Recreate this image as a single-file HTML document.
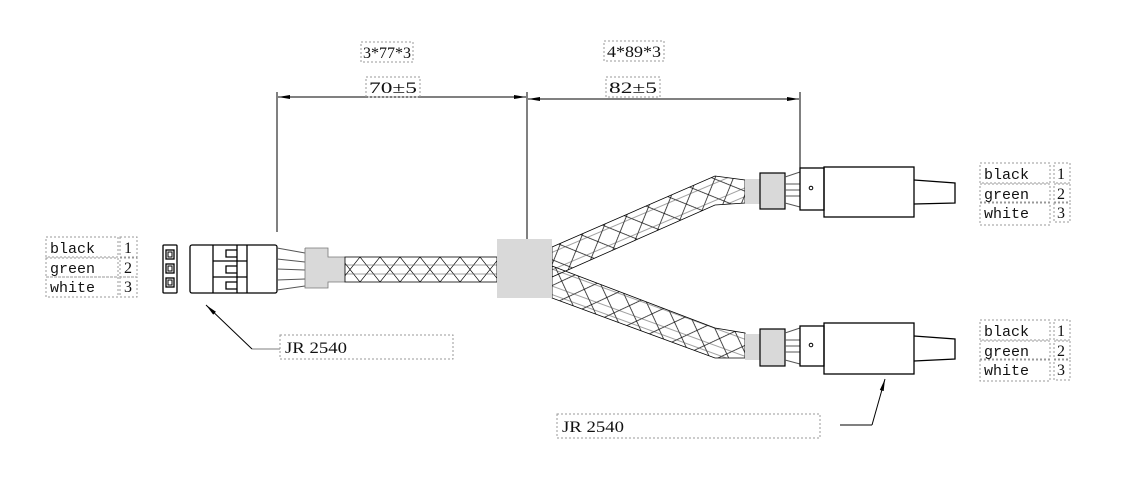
<!DOCTYPE html>
<html><head><meta charset="utf-8"><style>
html,body{margin:0;padding:0;background:#fff}
svg{display:block}
text{font-family:"Liberation Serif",serif;font-size:16px;fill:#111}
text.m{font-family:"Liberation Mono",monospace;font-size:15px}
.db{fill:none;stroke:#999;stroke-width:1;stroke-dasharray:2 2}
.k{fill:none;stroke:#000;stroke-width:1.3}
.g{fill:#d9d9d9;stroke:none}
.w{stroke:#555;stroke-width:1;fill:none}
</style></head><body>
<svg width="1147" height="483" viewBox="0 0 1147 483" xmlns="http://www.w3.org/2000/svg">
<defs>
<pattern id="hx" width="20" height="25" patternUnits="userSpaceOnUse" y="257">
<path d="M0 0L20 25M20 0L0 25" stroke="#000" stroke-width="0.7"/>
<path d="M0 8H20M0 17H20" stroke="#444" stroke-width="0.5"/>
</pattern>
<pattern id="hu" width="24" height="24" patternUnits="userSpaceOnUse" patternTransform="rotate(-23)">
<path d="M0 0L24 24M24 0L0 24" stroke="#000" stroke-width="0.7"/>
<path d="M0 8H24M0 16H24" stroke="#444" stroke-width="0.5"/>
</pattern>
<pattern id="hl" width="24" height="24" patternUnits="userSpaceOnUse" patternTransform="rotate(20)">
<path d="M0 0L24 24M24 0L0 24" stroke="#000" stroke-width="0.7"/>
<path d="M0 8H24M0 16H24" stroke="#444" stroke-width="0.5"/>
</pattern>
<marker id="ar" markerWidth="12" markerHeight="6" refX="12" refY="3" orient="auto" markerUnits="userSpaceOnUse"><path d="M0 1L12 3L0 5Z" fill="#000"/></marker>
</defs>

<line x1="277" y1="92" x2="277" y2="232" stroke="#000"/>
<line x1="527" y1="92" x2="527" y2="240" stroke="#000"/>
<line x1="800" y1="92" x2="800" y2="168" stroke="#000"/>
<line x1="402" y1="97" x2="278" y2="97" stroke="#000" marker-end="url(#ar)"/>
<line x1="402" y1="97" x2="526" y2="97" stroke="#000" marker-end="url(#ar)"/>
<line x1="660" y1="99" x2="528" y2="99" stroke="#000" marker-end="url(#ar)"/>
<line x1="660" y1="99" x2="799" y2="99" stroke="#000" marker-end="url(#ar)"/>
<rect class="db" x="361" y="42" width="52" height="20"/><text x="363" y="58" textLength="48" lengthAdjust="spacingAndGlyphs">3*77*3</text>
<rect class="db" x="366" y="77" width="54" height="20"/><text x="369" y="93" textLength="48" lengthAdjust="spacingAndGlyphs">70±5</text>
<rect class="db" x="604" y="41" width="60" height="20"/><text x="607" y="57" textLength="54" lengthAdjust="spacingAndGlyphs">4*89*3</text>
<rect class="db" x="606" y="77" width="54" height="20"/><text x="609" y="93" textLength="48" lengthAdjust="spacingAndGlyphs">82±5</text>

<rect class="db" x="46" y="237" width="72" height="20"/><text class="m" x="50" y="253">black</text>
<rect class="db" x="46" y="258" width="72" height="19"/><text class="m" x="50" y="273">green</text>
<rect class="db" x="46" y="277" width="72" height="20"/><text class="m" x="50" y="292">white</text>
<rect class="db" x="120" y="237" width="17" height="20"/><text x="124" y="253">1</text>
<rect class="db" x="120" y="258" width="17" height="19"/><text x="124" y="273">2</text>
<rect class="db" x="120" y="277" width="17" height="20"/><text x="124" y="292">3</text>

<rect class="k" x="163" y="245" width="14" height="48" rx="1"/>
<rect class="k" x="166" y="250" width="8" height="9"/><rect x="168" y="252" width="4" height="5" fill="none" stroke="#000"/>
<rect class="k" x="166" y="264" width="8" height="9"/><rect x="168" y="266" width="4" height="5" fill="none" stroke="#000"/>
<rect class="k" x="166" y="278" width="8" height="9"/><rect x="168" y="280" width="4" height="5" fill="none" stroke="#000"/>
<rect class="k" x="190" y="245" width="87" height="48" rx="2"/>
<line class="k" x1="213" y1="245" x2="213" y2="293"/>
<line class="k" x1="237" y1="245" x2="237" y2="293"/>
<line class="k" x1="247" y1="245" x2="247" y2="293"/>
<line class="k" x1="213" y1="261" x2="247" y2="261"/>
<line class="k" x1="213" y1="277" x2="247" y2="277"/>
<path class="k" d="M237 250H226V257H237M237 266H226V273H237M237 282H226V289H237" stroke-width="0.9"/>
<path class="w" d="M277 248L305 253M277 259L305 262M277 269L305 270M277 280L305 279M277 290L305 286"/>
<rect class="g" x="305" y="248" width="23" height="40"/>
<rect class="g" x="328" y="257" width="17" height="25"/>
<path d="M305 248H328V257H345M305 248V288H328V282H345" fill="none" stroke="#777" stroke-width="0.8"/>
<rect x="345" y="257" width="152" height="25" fill="url(#hx)" stroke="#000" stroke-width="0.8"/>

<path d="M552 247L715 176L745 180V203L715 205L552 277Z" fill="url(#hu)" stroke="#000" stroke-width="0.8"/>
<path d="M552 266L715 328L745 333V358L715 358L552 298Z" fill="url(#hl)" stroke="#000" stroke-width="0.8"/>
<rect class="g" x="497" y="239" width="55" height="59"/>

<rect class="g" x="745" y="179" width="15" height="25"/>
<rect x="760" y="173" width="25" height="36" fill="#d9d9d9" stroke="#000" stroke-width="1.2"/>
<path class="w" d="M785 177L800 172M785 184H800M785 190H800M785 196H800M785 203L800 207"/>
<rect class="k" x="800" y="168" width="24" height="42"/>
<circle cx="811" cy="188" r="1.8" fill="none" stroke="#000"/>
<rect class="k" x="824" y="167" width="90" height="50"/>
<path class="k" d="M914 180L955 183V203L914 204"/>

<rect class="g" x="745" y="334" width="15" height="26"/>
<rect x="760" y="329" width="25" height="37" fill="#d9d9d9" stroke="#000" stroke-width="1.2"/>
<path class="w" d="M785 333L800 328M785 340H800M785 346H800M785 352H800M785 360L800 364"/>
<rect class="k" x="800" y="326" width="24" height="40"/>
<circle cx="811" cy="345" r="1.8" fill="none" stroke="#000"/>
<rect class="k" x="824" y="323" width="90" height="51"/>
<path class="k" d="M914 336L955 339V359L914 361"/>

<rect class="db" x="980" y="163" width="70" height="20"/><text class="m" x="984" y="179">black</text>
<rect class="db" x="980" y="184" width="70" height="18"/><text class="m" x="984" y="199">green</text>
<rect class="db" x="980" y="203" width="70" height="22"/><text class="m" x="984" y="218">white</text>
<rect class="db" x="1054" y="163" width="16" height="20"/><text x="1057" y="179">1</text>
<rect class="db" x="1054" y="184" width="16" height="18"/><text x="1057" y="199">2</text>
<rect class="db" x="1054" y="203" width="16" height="19"/><text x="1057" y="218">3</text>
<rect class="db" x="980" y="320" width="70" height="20"/><text class="m" x="984" y="336">black</text>
<rect class="db" x="980" y="341" width="70" height="18"/><text class="m" x="984" y="356">green</text>
<rect class="db" x="980" y="360" width="70" height="21"/><text class="m" x="984" y="375">white</text>
<rect class="db" x="1054" y="320" width="16" height="20"/><text x="1057" y="336">1</text>
<rect class="db" x="1054" y="341" width="16" height="18"/><text x="1057" y="356">2</text>
<rect class="db" x="1054" y="360" width="16" height="20"/><text x="1057" y="375">3</text>

<rect class="db" x="280" y="335" width="173" height="24"/><text x="285" y="353" textLength="62" lengthAdjust="spacingAndGlyphs">JR 2540</text>
<line x1="252" y1="349" x2="280" y2="349" stroke="#999" stroke-width="1.2"/>
<line x1="252" y1="349" x2="206" y2="305" stroke="#000" marker-end="url(#ar)"/>
<rect class="db" x="557" y="414" width="263" height="24"/><text x="562" y="432" textLength="62" lengthAdjust="spacingAndGlyphs">JR 2540</text>
<path d="M840 425H872" stroke="#000" fill="none"/>
<line x1="872" y1="425" x2="885" y2="379" stroke="#000" marker-end="url(#ar)"/>
</svg>
</body></html>
